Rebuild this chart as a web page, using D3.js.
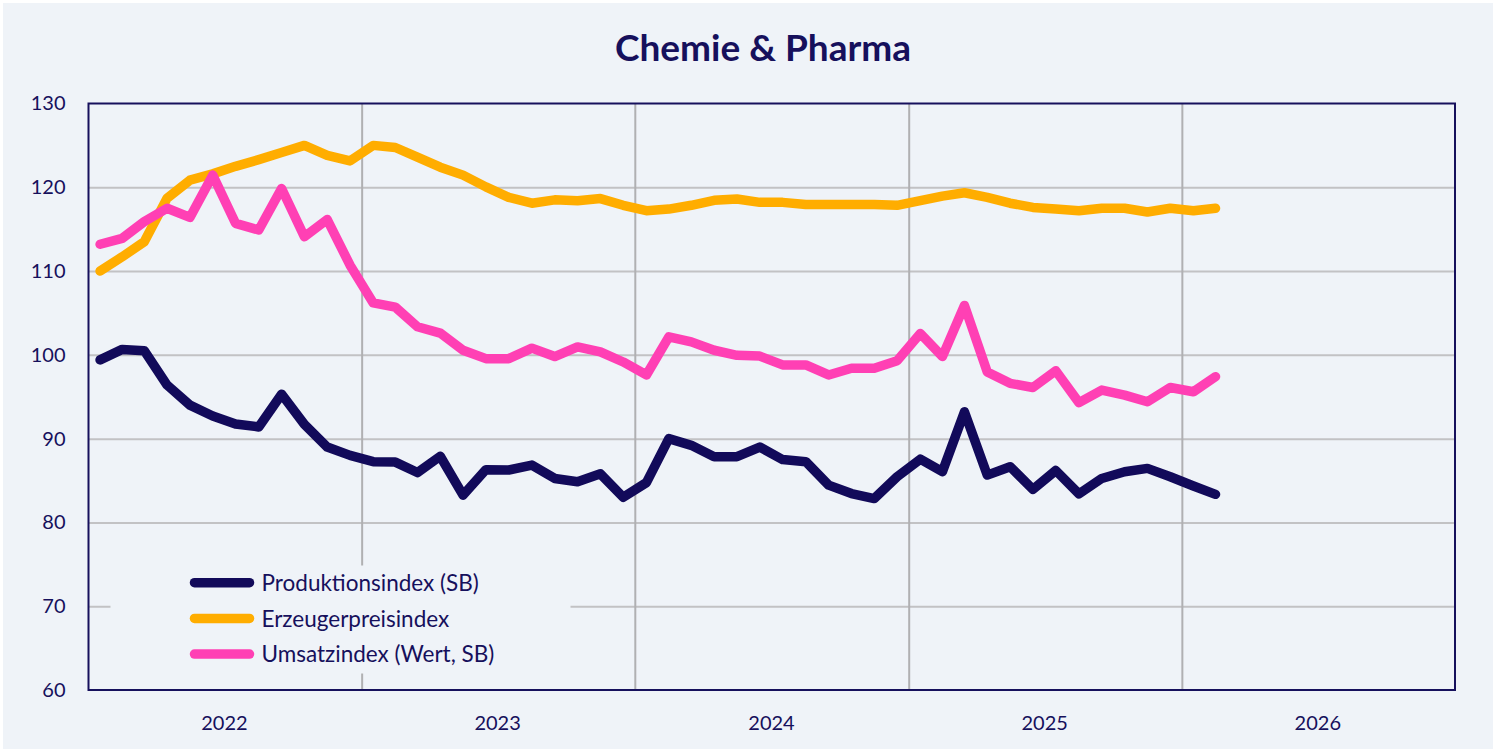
<!DOCTYPE html>
<html>
<head>
<meta charset="utf-8">
<script src="https://cdn.jsdelivr.net/npm/d3@7"></script>
<style>
  body { margin: 0; background: #ffffff; }
  text { font-family: "Lato", "Noto Sans", sans-serif; fill: #16105c; }
</style>
</head>
<body>
<div id="chart-area"></div>
<script>
// monthly values, Jan 2022 .. Feb 2026 as laid out on the chart
var startMonth = '2022-01';
var yearLabels = ['2022', '2023', '2024', '2025', '2026'];
var yTicks = [60, 70, 80, 90, 100, 110, 120, 130];

var produktion = [
  99.4, 100.65, 100.5, 96.4, 94.0, 92.7, 91.75, 91.4, 95.3, 91.7, 89.0, 88.0,
  87.25, 87.2, 85.95, 87.9, 83.25, 86.3, 86.25, 86.85, 85.25, 84.85, 85.8, 83.0,
  84.75, 90.0, 89.2, 87.85, 87.85, 89.0, 87.5, 87.25, 84.45, 83.45, 82.85, 85.45,
  87.55, 86.05, 93.2, 85.65, 86.65, 83.95, 86.2, 83.4, 85.25, 86.05, 86.45, 85.45,
  84.35, 83.35
];
var erzeugerpreis = [
  110.0, 111.7, 113.5, 118.7, 120.85, 121.6, 122.5, 123.3, 124.15, 125.0, 123.8, 123.15,
  125.0, 124.75, 123.6, 122.4, 121.45, 120.05, 118.8, 118.1, 118.5, 118.4, 118.65, 117.85,
  117.2, 117.4, 117.85, 118.45, 118.6, 118.2, 118.2, 117.95, 117.95, 117.95, 117.95, 117.85,
  118.4, 118.95, 119.35, 118.8, 118.1, 117.6, 117.4, 117.2, 117.5, 117.5, 117.05, 117.5,
  117.2, 117.5
];
var umsatz = [
  113.2, 113.9, 115.9, 117.5, 116.4, 121.45, 115.7, 114.9, 119.85, 114.1, 116.15, 110.7,
  106.2, 105.7, 103.35, 102.6, 100.55, 99.55, 99.55, 100.8, 99.8, 100.95, 100.35, 99.15,
  97.6, 102.15, 101.55, 100.55, 99.95, 99.85, 98.8, 98.8, 97.6, 98.4, 98.4, 99.3,
  102.55, 99.8, 105.9, 97.95, 96.6, 96.1, 98.1, 94.3, 95.8, 95.2, 94.4, 96.1,
  95.6, 97.4
];

var seriesNames = ['Produktionsindex (SB)', 'Erzeugerpreisindex', 'Umsatzindex (Wert, SB)'];
var seriesColors = ['#120a5a', '#ffad00', '#ff40b4'];
var seriesValues = [produktion, erzeugerpreis, umsatz];

var width = 1493;
var height = 749;
var margin = { left: 88.5, right: 38, top: 103.5, bottom: 59 };
var plotWidth = width - margin.left - margin.right;
var plotHeight = height - margin.top - margin.bottom;

var svg = d3.select('#chart-area')
  .append('svg')
    .attr('width', width)
    .attr('height', height);

// page background
svg.append('rect')
  .attr('x', 3)
  .attr('y', 3)
  .attr('width', width - 3)
  .attr('height', height - 3)
  .attr('fill', '#eff3f8');

svg.append('text')
  .attr('x', 763)
  .attr('y', 61)
  .attr('text-anchor', 'middle')
  .attr('font-size', '37px')
  .attr('font-weight', 'bold')
  .text('Chemie & Pharma');

var graph = svg.append('g')
  .attr('transform', `translate(${margin.left}, ${margin.top})`);

var parseMonth = d3.timeParse('%Y-%m');
var firstMonth = parseMonth(startMonth);
var firstYear = +yearLabels[0];

var x = d3.scaleTime()
  .domain([new Date(firstYear, 0, 1), new Date(firstYear + yearLabels.length, 0, 1)])
  .range([0, plotWidth]);

var y = d3.scaleLinear()
  .domain([60, 130])
  .range([plotHeight, 0]);

// middle of each month
function monthCenter(i) {
  var a = d3.timeMonth.offset(firstMonth, i);
  var b = d3.timeMonth.offset(firstMonth, i + 1);
  return new Date((a.getTime() + b.getTime()) / 2);
}

// horizontal grid
graph.append('g')
  .attr('class', 'y-grid')
  .call(d3.axisLeft(y).tickValues(yTicks.slice(1, -1)).tickSize(-plotWidth).tickFormat(''))
  .call(g => g.select('.domain').remove())
  .selectAll('line')
    .attr('stroke', '#c2c2c4')
    .attr('stroke-width', 2);

// vertical grid at year boundaries
var yearStarts = yearLabels.slice(1).map(yr => new Date(+yr, 0, 1));
graph.append('g')
  .attr('class', 'x-grid')
  .attr('transform', 'translate(0,' + plotHeight + ')')
  .call(d3.axisBottom(x).tickValues(yearStarts).tickSize(-plotHeight).tickFormat(''))
  .call(g => g.select('.domain').remove())
  .selectAll('line')
    .attr('stroke', '#b0b0b2')
    .attr('stroke-width', 2);

// legend box hides grid behind it
var legend = graph.append('g')
  .attr('transform', 'translate(22, 462)');

legend.append('rect')
  .attr('width', 460)
  .attr('height', 108)
  .attr('fill', '#eff3f8');

// lines
var line = d3.line()
  .x((d, i) => x(monthCenter(i)))
  .y(d => y(d));

seriesValues.forEach(function (vals, k) {
  graph.append('path')
    .datum(vals)
    .attr('fill', 'none')
    .attr('stroke', seriesColors[k])
    .attr('stroke-width', 9.5)
    .attr('stroke-linejoin', 'round')
    .attr('stroke-linecap', 'round')
    .attr('d', line);
});

// legend entries
seriesNames.forEach(function (name, k) {
  var row = legend.append('g')
    .attr('transform', `translate(84, ${17.2 + k * 35.7})`);
  row.append('line')
    .attr('x1', 0)
    .attr('x2', 55)
    .attr('stroke', seriesColors[k])
    .attr('stroke-width', 9.5)
    .attr('stroke-linecap', 'round');
  row.append('text')
    .attr('x', 67)
    .attr('dy', '0.36em')
    .attr('font-size', '22.5px')
    .text(name);
});

// frame
graph.append('rect')
  .attr('width', plotWidth)
  .attr('height', plotHeight)
  .attr('fill', 'none')
  .attr('stroke', '#16105c')
  .attr('stroke-width', 2);

// y axis labels
var yAxisCall = d3.axisLeft(y).tickValues(yTicks).tickSize(0).tickPadding(23);
graph.append('g')
  .attr('class', 'y-axis')
  .call(yAxisCall)
  .call(g => g.select('.domain').remove())
  .selectAll('text')
    .attr('font-size', '20px')
    .style('font-family', '"Lato", "Noto Sans", sans-serif')
    .attr('fill', '#16105c');

// x axis labels centred in each year
var yearMids = yearLabels.map(yr => new Date(+yr, 6, 1));
var xAxisCall = d3.axisBottom(x).tickValues(yearMids).tickSize(0).tickPadding(26)
  .tickFormat(d3.timeFormat('%Y'));
graph.append('g')
  .attr('class', 'x-axis')
  .attr('transform', 'translate(0,' + plotHeight + ')')
  .call(xAxisCall)
  .call(g => g.select('.domain').remove())
  .selectAll('text')
    .attr('font-size', '20px')
    .style('font-family', '"Lato", "Noto Sans", sans-serif')
    .attr('fill', '#16105c');
</script>
</body>
</html>
